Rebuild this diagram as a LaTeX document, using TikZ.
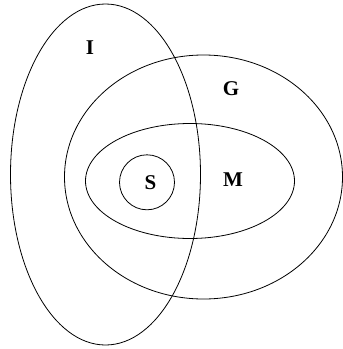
\documentclass[tikz,border=0pt]{standalone}
\usepackage{fontspec}
\setmainfont{Liberation Serif}
\begin{document}
\begin{tikzpicture}[x=1pt,y=-1pt,
  setline/.style={draw=black,line width=0.8pt},
  setlabel/.style={font=\fontsize{21}{24}\selectfont\bfseries,inner sep=0pt}]
\useasboundingbox (0,0) rectangle (343,349);
\draw[setline] (105.5,174.5) ellipse [x radius=95, y radius=170.5];
\draw[setline] (203.5,177) ellipse [x radius=139, y radius=122];
\draw[setline] (190,181) ellipse [x radius=104.5, y radius=57.5];
\draw[setline] (147,182.3) circle [radius=27.5];
\node[setlabel] (lI) at (90,47.5) {I};
\node[setlabel] (lG) at (231,89) {G};
\node[setlabel] (lS) at (150.5,182.5) {S};
\node[setlabel] (lM) at (233,179.5) {M};
\end{tikzpicture}
\end{document}
